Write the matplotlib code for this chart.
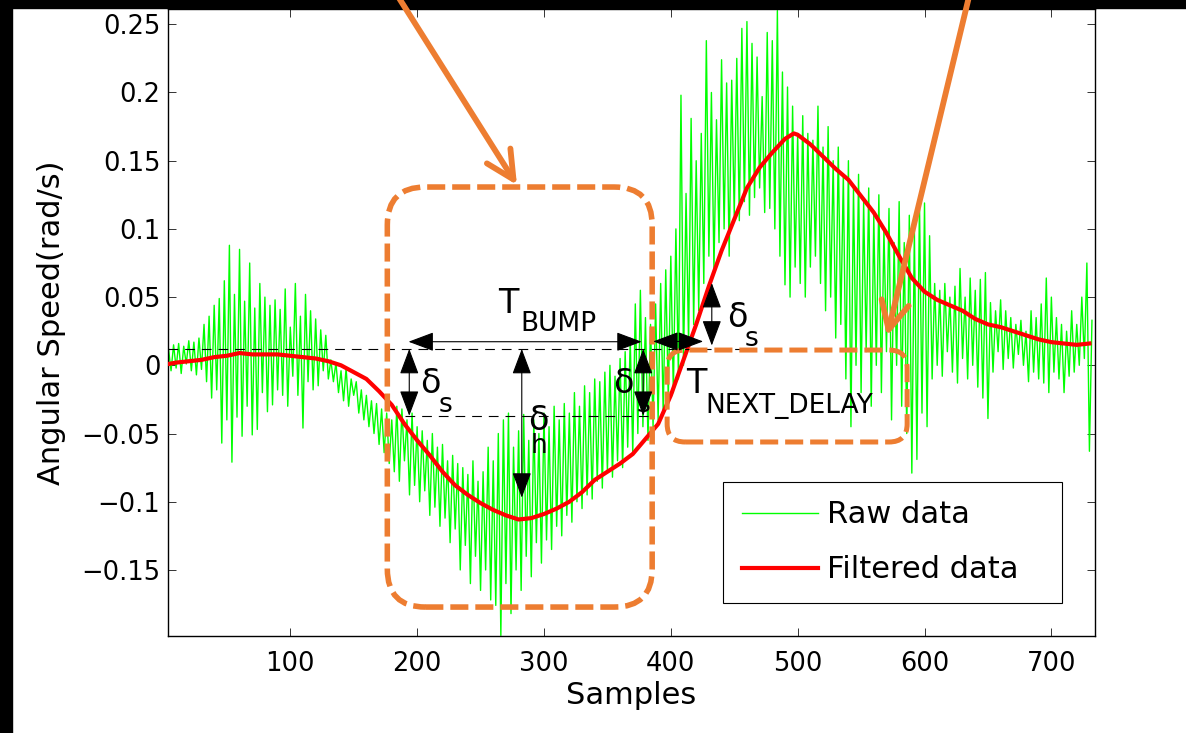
import numpy as np
import matplotlib
matplotlib.use('Agg')
import matplotlib.pyplot as plt
from matplotlib.patches import FancyBboxPatch, FancyArrowPatch, Rectangle

plt.rcParams['font.family'] = ['DejaVu Sans']
plt.rcParams['lines.scale_dashes'] = False
plt.rcParams['axes.unicode_minus'] = True

# ---------------- data ----------------
raw_data = [
    # samples 4-30
    0.012, -0.004, 0.015, -0.002, 0.016, -0.006, 0.014, 0.001, 0.018, -0.004, 0.017, -0.007, 0.020, -0.003,
    # 32-60
    0.030, -0.012, 0.036, -0.024, 0.044, -0.018, 0.049, -0.057, 0.062, -0.040, 0.088, -0.071, 0.052, -0.038, 0.085,
    # 62-90
    -0.052, 0.047, -0.030, 0.075, -0.051, 0.042, -0.047, 0.060, -0.020, 0.050, -0.034, 0.044, -0.029, 0.048, -0.018,
    # 92-130
    0.041, -0.022, 0.056, -0.030, 0.028, -0.008, 0.060, -0.022, 0.036, -0.046, 0.052, -0.012, 0.040, -0.018,
    0.034, -0.015, 0.026, -0.004, 0.022, -0.010,
    # 132-180
    0.004, -0.012, 0.002, -0.020, -0.004, -0.026, -0.002, -0.030, -0.010, -0.022, -0.012, -0.035, -0.018,
    -0.040, -0.022, -0.045, -0.026, -0.050, -0.028, -0.058, -0.032, -0.064, -0.035, -0.072, -0.040,
    # 182-260
    -0.078, -0.030, -0.085, -0.032, -0.070, -0.040, -0.095, -0.035, -0.088, -0.045, -0.100, -0.048, -0.092,
    -0.055, -0.110, -0.050, -0.104, -0.060, -0.118, -0.058, -0.112, -0.070, -0.130, -0.066, -0.120, -0.072,
    -0.150, -0.075, -0.132, -0.080, -0.160, -0.070, -0.140, -0.085, -0.165, -0.078, -0.150, -0.060, -0.172, -0.070,
    # 262-300
    -0.176, -0.050, -0.198, -0.040, -0.160, -0.035, -0.182, -0.060, -0.150, -0.048, -0.165, -0.036, -0.140,
    -0.055, -0.155, -0.040, -0.130, -0.050, -0.145, -0.035,
    # 302-340
    -0.128, -0.045, -0.135, -0.030, -0.118, -0.040, -0.125, -0.028, -0.110, -0.035, -0.115, -0.020, -0.100,
    -0.030, -0.105, -0.015, -0.095, -0.020, -0.098, -0.010,
    # 342-380
    -0.085, -0.012, -0.090, -0.005, -0.078, 0.000, -0.082, -0.008, -0.070, 0.005, -0.075, 0.010, -0.060,
    0.020, -0.065, 0.045, -0.050, 0.055, -0.045, 0.035,
    # 382-420
    -0.055, 0.030, -0.045, 0.045, -0.040, 0.060, -0.035, 0.070, -0.025, 0.080, -0.020, 0.100, -0.010,
    0.198, 0.000, 0.126, 0.015, 0.181, 0.030, 0.150,
    # 422-500
    0.040, 0.170, 0.060, 0.238, 0.080, 0.200, 0.070, 0.180, 0.090, 0.224, 0.100, 0.207, 0.080, 0.209,
    0.110, 0.225, 0.106, 0.247, 0.120, 0.252, 0.110, 0.236, 0.123, 0.226, 0.130, 0.197, 0.112, 0.244,
    0.115, 0.238, 0.100, 0.260, 0.080, 0.215, 0.059, 0.204, 0.050, 0.190, 0.072, 0.170,
    # 502-560
    0.060, 0.183, 0.050, 0.170, 0.072, 0.165, 0.080, 0.190, 0.060, 0.160, 0.040, 0.175, 0.050, 0.150,
    0.020, 0.160, 0.030, 0.140, -0.010, 0.150, -0.045, 0.130, 0.000, 0.140, -0.020, 0.120, 0.010, 0.130,
    -0.030, 0.110,
    # 562-600
    0.000, 0.125, -0.020, 0.100, 0.010, 0.115, -0.040, 0.090, 0.000, 0.120, -0.030, 0.090, -0.050, 0.110,
    -0.079, 0.100, -0.069, 0.121, -0.035, 0.119,
    # 602-640
    -0.045, 0.095, -0.010, 0.060, 0.000, 0.055, -0.008, 0.060, 0.010, 0.050, -0.005, 0.058, -0.013, 0.071,
    0.005, 0.050, -0.010, 0.064, 0.000, 0.055,
    # 642-680
    -0.016, 0.063, -0.024, 0.068, -0.039, 0.046, -0.005, 0.040, 0.010, 0.048, -0.003, 0.040, 0.005, 0.035,
    -0.002, 0.030, 0.008, 0.033, 0.000, 0.025,
    # 682-732
    -0.012, 0.040, -0.005, 0.035, -0.010, 0.045, -0.013, 0.064, -0.020, 0.050, -0.005, 0.035, -0.010,
    0.030, -0.020, 0.025, -0.008, 0.040, -0.005, 0.030, 0.000, 0.050, 0.005, 0.075, -0.063, 0.033,
]
raw_samples = list(range(4, 4 + 2 * len(raw_data), 2))

filt_samples = [4, 10, 20, 30, 40, 50, 60, 70, 80, 90, 100, 110, 120, 130, 140, 150, 160, 170, 180, 190,
                200, 210, 220, 230, 240, 250, 260, 270, 280, 290, 300, 310, 320, 330, 340, 350, 360, 370,
                380, 390, 400, 410, 420, 430, 440, 450, 460, 470, 480, 490, 497, 500, 510, 520, 530, 540,
                550, 560, 570, 580, 590, 600, 610, 620, 630, 640, 650, 660, 670, 680, 690, 700, 710, 720, 730]
filt_values = [0.001, 0.002, 0.003, 0.004, 0.006, 0.007, 0.009, 0.008, 0.008, 0.008,
               0.007, 0.006, 0.005, 0.003, 0.000, -0.005, -0.010, -0.019, -0.029, -0.043,
               -0.055, -0.066, -0.078, -0.088, -0.095, -0.101, -0.106, -0.110, -0.113, -0.112,
               -0.109, -0.105, -0.100, -0.093, -0.084, -0.078, -0.072, -0.065, -0.054, -0.043,
               -0.022, 0.004, 0.030, 0.058, 0.084, 0.107, 0.130, 0.145, 0.156, 0.166, 0.170,
               0.169, 0.162, 0.153, 0.144, 0.136, 0.124, 0.112, 0.097, 0.080, 0.064,
               0.054, 0.048, 0.044, 0.040, 0.034, 0.030, 0.028, 0.025, 0.022, 0.019,
               0.017, 0.016, 0.015, 0.016]

x_ticks = [100, 200, 300, 400, 500, 600, 700]
x_tick_labels = ['100', '200', '300', '400', '500', '600', '700']
y_ticks = [-0.15, -0.1, -0.05, 0, 0.05, 0.1, 0.15, 0.2, 0.25]
y_tick_labels = ['\u22120.15', '\u22120.1', '\u22120.05', '0', '0.05', '0.1', '0.15', '0.2', '0.25']
x_limits = (3.6, 734.4)
y_limits = (-0.1982, 0.2612)

# annotation levels (data units)
level_high = 0.012
level_low = -0.037

ORANGE = '#ED7D31'

# ---------------- figure ----------------
W, H = 1186, 733
fig = plt.figure(figsize=(W / 100, H / 100), dpi=100)
fig.patch.set_facecolor('white')
ax_l, ax_r, ax_t, ax_b = 168, 1095, 9, 635.7
ax = fig.add_axes([ax_l / W, 1 - ax_b / H, (ax_r - ax_l) / W, (ax_b - ax_t) / H])

# black strips at left and top edges of the image
fig.add_artist(Rectangle((0, 0), 12 / W, 1, transform=fig.transFigure, color='black', zorder=-5))
fig.add_artist(Rectangle((0, 1 - 8 / H), 1, 8 / H, transform=fig.transFigure, color='black', zorder=-5))

raw_line, = ax.plot(raw_samples, raw_data, color='#00FF00', lw=1.0, zorder=2)
filt_line, = ax.plot(filt_samples, filt_values, color='#FF0000', lw=3.0, zorder=3,
                     solid_joinstyle='round')

ax.set_xlim(*x_limits)
ax.set_ylim(*y_limits)
ax.set_xticks(x_ticks)
ax.set_xticklabels(x_tick_labels)
ax.set_yticks(y_ticks)
ax.set_yticklabels(y_tick_labels)
ax.tick_params(direction='in', length=6, width=0.7, color='#333333', top=True, right=True,
               labelsize=18.5)
ax.tick_params(axis='x', pad=11)
ax.tick_params(axis='y', pad=5.5)
for sp in ax.spines.values():
    sp.set_linewidth(1.0)
    sp.set_color('black')
ax.set_xlabel('Samples', fontsize=22, labelpad=3)
ax.set_ylabel('Angular Speed(rad/s)', fontsize=22, labelpad=11)

# ---------------- dashed reference lines ----------------
dash = (0, (7, 5))
ax.plot([x_limits[0], 464], [level_high, level_high], color='black', lw=0.8, ls=dash, zorder=4)
ax.plot([190.7, 382], [level_low, level_low], color='black', lw=0.8, ls=dash, zorder=4)

# ---------------- rounded dashed orange boxes ----------------
ax_w_px = ax_r - ax_l
ax_h_px = ax_b - ax_t
xu = (x_limits[1] - x_limits[0]) / ax_w_px
yu = (y_limits[1] - y_limits[0]) / ax_h_px
asp = yu / xu


def rounded_box(x0, x1, y0, y1, r_px, lw):
    r = r_px * xu
    p = FancyBboxPatch((x0, y0), x1 - x0, y1 - y0,
                       boxstyle=f"round,pad=0,rounding_size={r}",
                       mutation_aspect=asp, fill=False, ec=ORANGE, lw=lw,
                       ls=(0, (13, 5)), clip_on=False, zorder=6)
    ax.add_patch(p)


rounded_box(176.5, 385.3, -0.1772, 0.1307, 38, 4.0)
rounded_box(397.1, 586.3, -0.0562, 0.0112, 18, 3.6)

# ---------------- orange arrows ----------------
for start, tip in [((178.4, 0.28), (278.7, 0.1322)), ((637.6, 0.28), (570.5, 0.0215))]:
    a = FancyArrowPatch(start, tip, arrowstyle='->,head_length=0.4,head_width=0.2',
                        mutation_scale=50, color=ORANGE, lw=4.2, capstyle='round',
                        joinstyle='round', shrinkA=0, shrinkB=0, clip_on=False, zorder=7)
    ax.add_patch(a)


# ---------------- black double arrows ----------------
def dbl_arrow(p0, p1, lw=0.8):
    a = FancyArrowPatch(p0, p1, arrowstyle='<|-|>,head_length=0.4,head_width=0.15',
                        mutation_scale=40, color='black', lw=lw, shrinkA=0, shrinkB=0,
                        zorder=8)
    ax.add_patch(a)


dbl_arrow((193.2, 0.0173), (377.0, 0.0173))          # T_BUMP
dbl_arrow((386.1, 0.0175), (425.5, 0.0175))          # T_NEXT_DELAY
dbl_arrow((193.8, level_high), (193.8, level_low))   # left delta_s
dbl_arrow((282.5, level_high), (282.5, -0.097))      # delta_h
dbl_arrow((378.2, level_high), (378.2, level_low))   # right delta_s
dbl_arrow((432.3, 0.0603), (432.3, 0.0145))          # delta_s on rising edge

# ---------------- labels ----------------
BIG, SUB = 24, 19


def label(x, y, main, sub, sx, sy):
    ax.text(x, y, main, fontsize=BIG, ha='left', va='baseline', zorder=9)
    ax.text(sx, sy, sub, fontsize=SUB, ha='left', va='baseline', zorder=9)


label(264.0, 0.0383, 'T', 'BUMP', 281.3, 0.0251)
label(202.5, -0.0203, '\u03b4', 's', 216.7, -0.0342)
label(287.6, -0.0475, '\u03b4', 'h', 289.8, -0.0645)
label(354.6, -0.0203, '\u03b4', 's', 372.7, -0.0342)
label(444.4, 0.0281, '\u03b4', 's', 457.8, 0.0141)
label(412.1, -0.0203, 'T', 'NEXT_DELAY', 427.1, -0.035)

# ---------------- legend ----------------
leg = ax.legend([raw_line, filt_line], ['Raw data', 'Filtered data'], fontsize=22,
                loc='center', bbox_to_anchor=(0.599, 0.054, 0.365, 0.19), mode='expand',
                borderaxespad=0, frameon=True, fancybox=False, framealpha=1,
                edgecolor='black', handlelength=2.5, handletextpad=0.3,
                labelspacing=0.85, borderpad=0.6)
leg.get_frame().set_linewidth(0.8)
leg.set_zorder(10)

fig.savefig('out.png', dpi=100, facecolor='white')
